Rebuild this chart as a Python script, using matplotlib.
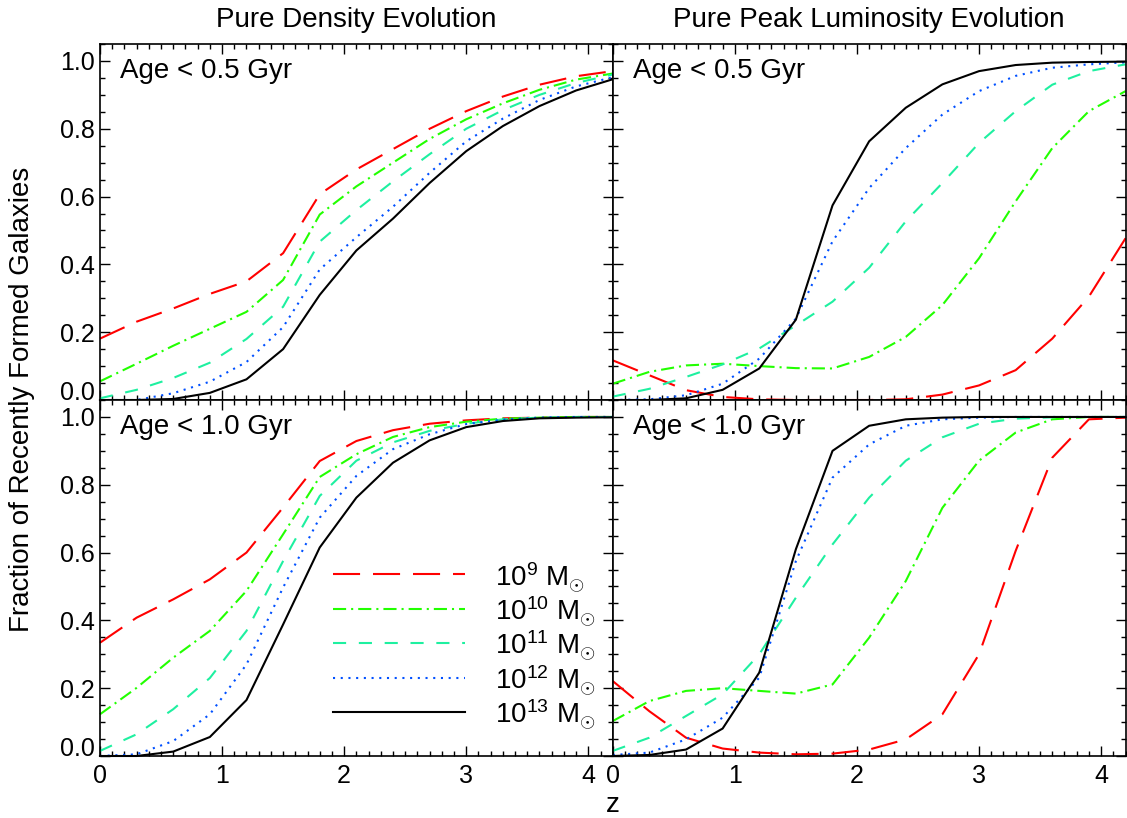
import matplotlib
matplotlib.use("Agg")
import matplotlib.pyplot as plt
from matplotlib.ticker import MultipleLocator

# redshift grid
z = [0.0, 0.3, 0.6, 0.9, 1.2, 1.5, 1.8, 2.1, 2.4, 2.7, 3.0, 3.3, 3.6, 3.9, 4.2]

# Pure density evolution, age < 0.5 Gyr
pde05_m9 = [0.181, 0.231, 0.27, 0.313, 0.35, 0.433, 0.607, 0.68, 0.74, 0.80, 0.852, 0.895, 0.93, 0.955, 0.97]
pde05_m10 = [0.055, 0.107, 0.16, 0.21, 0.26, 0.354, 0.547, 0.63, 0.70, 0.77, 0.828, 0.875, 0.915, 0.945, 0.963]
pde05_m11 = [0.005, 0.03, 0.065, 0.11, 0.18, 0.275, 0.467, 0.56, 0.645, 0.725, 0.80, 0.855, 0.90, 0.935, 0.96]
pde05_m12 = [0.0, 0.0, 0.02, 0.054, 0.112, 0.215, 0.385, 0.48, 0.57, 0.67, 0.763, 0.83, 0.885, 0.925, 0.952]
pde05_m13 = [0.0, 0.0, 0.003, 0.021, 0.061, 0.15, 0.31, 0.441, 0.535, 0.64, 0.734, 0.808, 0.867, 0.913, 0.946]

# Pure peak luminosity evolution, age < 0.5 Gyr
pple05_m9 = [0.117, 0.073, 0.029, 0.009, 0.002, 0.0, 0.0, 0.0, 0.002, 0.016, 0.043, 0.088, 0.181, 0.305, 0.477]
pple05_m10 = [0.048, 0.083, 0.102, 0.107, 0.10, 0.094, 0.093, 0.127, 0.186, 0.28, 0.418, 0.586, 0.743, 0.852, 0.911]
pple05_m11 = [0.01, 0.033, 0.068, 0.105, 0.152, 0.22, 0.29, 0.39, 0.527, 0.64, 0.758, 0.852, 0.93, 0.97, 0.99]
pple05_m12 = [0.0, 0.002, 0.014, 0.048, 0.122, 0.24, 0.468, 0.625, 0.743, 0.842, 0.911, 0.956, 0.98, 0.99, 0.996]
pple05_m13 = [0.0, 0.0, 0.005, 0.03, 0.093, 0.237, 0.574, 0.763, 0.862, 0.931, 0.97, 0.988, 0.995, 0.997, 0.998]

# Pure density evolution, age < 1.0 Gyr
pde10_m9 = [0.334, 0.408, 0.462, 0.521, 0.60, 0.733, 0.87, 0.929, 0.961, 0.98, 0.99, 0.996, 0.998, 1.0, 1.0]
pde10_m10 = [0.123, 0.201, 0.29, 0.369, 0.487, 0.654, 0.823, 0.89, 0.941, 0.97, 0.986, 0.995, 0.998, 1.0, 1.0]
pde10_m11 = [0.015, 0.064, 0.138, 0.23, 0.369, 0.575, 0.767, 0.871, 0.925, 0.959, 0.98, 0.993, 0.998, 1.0, 1.0]
pde10_m12 = [0.0, 0.005, 0.044, 0.123, 0.27, 0.497, 0.703, 0.826, 0.905, 0.949, 0.979, 0.992, 0.998, 1.0, 1.0]
pde10_m13 = [0.0, 0.0, 0.013, 0.056, 0.165, 0.388, 0.615, 0.762, 0.865, 0.931, 0.97, 0.988, 0.996, 0.998, 0.999]

# Pure peak luminosity evolution, age < 1.0 Gyr
pple10_m9 = [0.221, 0.132, 0.054, 0.022, 0.01, 0.005, 0.007, 0.019, 0.049, 0.123, 0.30, 0.605, 0.88, 0.993, 0.998]
pple10_m10 = [0.103, 0.162, 0.192, 0.20, 0.192, 0.184, 0.211, 0.349, 0.516, 0.732, 0.871, 0.954, 0.993, 1.0, 1.0]
pple10_m11 = [0.015, 0.054, 0.118, 0.182, 0.30, 0.467, 0.624, 0.762, 0.871, 0.94, 0.98, 0.995, 0.999, 1.0, 1.0]
pple10_m12 = [0.003, 0.01, 0.049, 0.113, 0.231, 0.575, 0.821, 0.919, 0.974, 0.993, 0.998, 1.0, 1.0, 1.0, 1.0]
pple10_m13 = [0.0, 0.003, 0.019, 0.081, 0.246, 0.61, 0.90, 0.974, 0.993, 0.998, 1.0, 1.0, 1.0, 1.0, 1.0]

mass_labels = ["10$^{9}$ M$_{\\odot}$", "10$^{10}$ M$_{\\odot}$", "10$^{11}$ M$_{\\odot}$",
               "10$^{12}$ M$_{\\odot}$", "10$^{13}$ M$_{\\odot}$"]
col_titles = ["Pure Density Evolution", "Pure Peak Luminosity Evolution"]
row_labels = ["Age < 0.5 Gyr", "Age < 1.0 Gyr"]

colors = ["#ff0000", "#22ff00", "#1ef0a0", "#0050ff", "#000000"]
styles = [(0, (13, 6.2)), (0, (6.3, 2.4, 1, 2.4)), (0, (6.3, 6.1)), (0, (1, 2.7)), "-"]

panels = [[[pde05_m9, pde05_m10, pde05_m11, pde05_m12, pde05_m13],
           [pple05_m9, pple05_m10, pple05_m11, pple05_m12, pple05_m13]],
          [[pde10_m9, pde10_m10, pde10_m11, pde10_m12, pde10_m13],
           [pple10_m9, pple10_m10, pple10_m11, pple10_m12, pple10_m13]]]

plt.rcParams.update({
    "font.family": ["Liberation Sans", "DejaVu Sans"],
    "mathtext.fontset": "custom",
    "mathtext.rm": "Liberation Sans",
    "mathtext.it": "Liberation Sans:italic",
    "mathtext.bf": "Liberation Sans:bold",
})

fig, axes = plt.subplots(2, 2, figsize=(11.27, 8.18), dpi=100)
fig.subplots_adjust(left=0.0887, right=0.9987, bottom=0.0758, top=0.9462, hspace=0, wspace=0)

for r in range(2):
    for c in range(2):
        ax = axes[r][c]
        for k in range(5):
            ax.plot(z, panels[r][c][k], color=colors[k], linestyle=styles[k], lw=1.5,
                    label=mass_labels[k], clip_on=False)
        ax.set_xlim(0, 4.2)
        ax.set_ylim(0, 1.05)
        ax.xaxis.set_major_locator(MultipleLocator(1))
        ax.xaxis.set_minor_locator(MultipleLocator(0.1))
        ax.yaxis.set_major_locator(MultipleLocator(0.2))
        ax.yaxis.set_minor_locator(MultipleLocator(0.05))
        ax.tick_params(which="both", direction="in", top=True, right=True, width=1.0, labelsize=18)
        ax.tick_params(which="major", length=7.2)
        ax.tick_params(which="minor", length=3.6)
        ax.tick_params(axis="x", pad=6)
        for sp in ax.spines.values():
            sp.set_linewidth(1.2)
        if r == 0:
            ax.tick_params(labelbottom=False)
        if c == 1:
            ax.tick_params(labelleft=False)
        else:
            ax.set_yticks([0.0, 0.2, 0.4, 0.6, 0.8, 1.0])
            ax.set_yticklabels(["0.0", "0.2", "0.4", "0.6", "0.8", "1.0"])
            ax.get_yticklabels()[0].set_verticalalignment("baseline")
        ax.text(0.039, 0.904, row_labels[r], transform=ax.transAxes, fontsize=20, va="baseline")
        if r == 0:
            ax.set_title(col_titles[c], fontsize=20, pad=12)

axes[1][0].legend(loc="upper left", bbox_to_anchor=(0.4545, 0.55), frameon=False, fontsize=20,
                  handlelength=4.75, handletextpad=1.08, handleheight=1.24, labelspacing=0.0,
                  borderpad=0, borderaxespad=0)

fig.text(613 / 1127, 1 - 805 / 818, "z", fontsize=20, ha="center", va="center")
fig.text(22 / 1127, 1 - 399 / 818, "Fraction of Recently Formed Galaxies", fontsize=20,
         rotation=90, ha="center", va="center")

fig.savefig("out.png", dpi=100)
